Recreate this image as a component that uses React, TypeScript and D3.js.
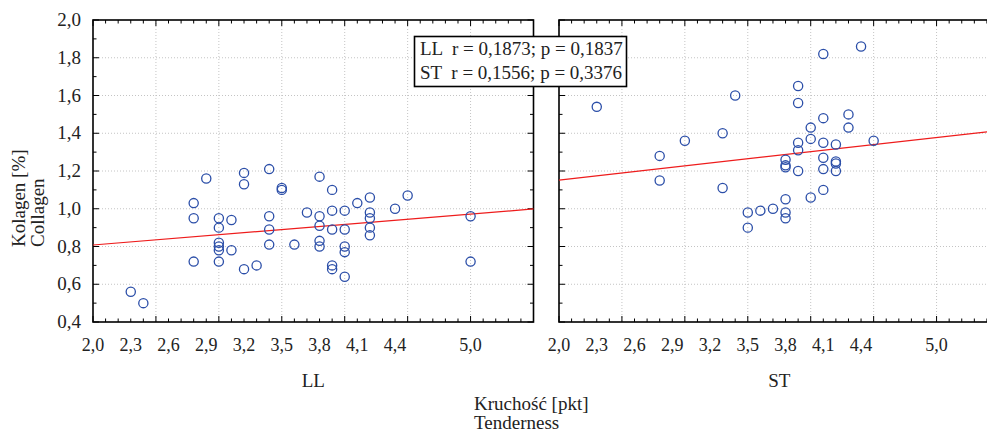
import React from 'react';
import * as d3 from 'd3';

// Data
const xTickLabels = [2.0, 2.3, 2.6, 2.9, 3.2, 3.5, 3.8, 4.1, 4.4, 5.0];
const yTickLabels = [0.4, 0.6, 0.8, 1.0, 1.2, 1.4, 1.6, 1.8, 2.0];
const panels = ['LL', 'ST'];

const llX = [2.3, 2.4, 2.8, 2.8, 2.8, 2.9, 3.0, 3.0, 3.0, 3.0, 3.0, 3.0, 3.1, 3.1, 3.2, 3.2, 3.2, 3.3, 3.4, 3.4, 3.4, 3.4, 3.5, 3.5, 3.6, 3.7, 3.8, 3.8, 3.8, 3.8, 3.8, 3.9, 3.9, 3.9, 3.9, 3.9, 4.0, 4.0, 4.0, 4.0, 4.0, 4.1, 4.2, 4.2, 4.2, 4.2, 4.2, 4.4, 4.5, 5.0, 5.0];
const llY = [0.56, 0.50, 1.03, 0.95, 0.72, 1.16, 0.95, 0.90, 0.82, 0.80, 0.78, 0.72, 0.94, 0.78, 1.19, 1.13, 0.68, 0.70, 1.21, 0.96, 0.89, 0.81, 1.11, 1.10, 0.81, 0.98, 1.17, 0.96, 0.91, 0.83, 0.80, 1.10, 0.99, 0.89, 0.70, 0.68, 0.99, 0.89, 0.80, 0.77, 0.64, 1.03, 1.06, 0.98, 0.95, 0.90, 0.86, 1.00, 1.07, 0.96, 0.72];

const stX = [2.3, 2.8, 2.8, 3.0, 3.3, 3.3, 3.4, 3.5, 3.5, 3.6, 3.7, 3.8, 3.8, 3.8, 3.8, 3.8, 3.8, 3.9, 3.9, 3.9, 3.9, 3.9, 4.0, 4.0, 4.0, 4.1, 4.1, 4.1, 4.1, 4.1, 4.1, 4.2, 4.2, 4.2, 4.2, 4.3, 4.3, 4.4, 4.5];
const stY = [1.54, 1.28, 1.15, 1.36, 1.40, 1.11, 1.60, 0.98, 0.90, 0.99, 1.00, 1.26, 1.23, 1.22, 1.05, 0.98, 0.95, 1.65, 1.56, 1.35, 1.31, 1.20, 1.43, 1.37, 1.06, 1.82, 1.48, 1.35, 1.27, 1.21, 1.10, 1.34, 1.25, 1.24, 1.20, 1.50, 1.43, 1.86, 1.36];

// regression fits: [value at x=2.0, value at x=5.5]
const llFit = [0.808, 0.999];
const stFit = [1.152, 1.415];

const legendLines = ['LL  r = 0,1873; p = 0,1837', 'ST  r = 0,1556; p = 0,3376'];

const fmt = (v: number) => d3.format('.1f')(v).replace('.', ',');
const FONT = "'Liberation Serif', 'Times New Roman', 'DejaVu Serif', serif";
const ts = (size: number): React.CSSProperties => ({ fontFamily: FONT, fontSize: size + 'px', whiteSpace: 'pre' });

function Panel({ x0, x1, xs, ys, fit, title }: any) {
  const x = d3.scaleLinear().domain([2.0, 5.5]).range([x0, x1]);
  const y = d3.scaleLinear().domain([0.4, 2.0]).range([322, 20]);
  const xMinor = d3.range(20, 56).map((v) => v / 10);
  const yMinor = d3.range(4, 21).map((v) => v / 10);
  const xGrid = [2.5, 3.0, 3.5, 4.0, 4.5, 5.0];
  const yGrid = [0.6, 0.8, 1.0, 1.2, 1.4, 1.6, 1.8];
  const isMajX = (v: number) => Math.abs(v * 2 - Math.round(v * 2)) < 1e-6;
  const isMajY = (v: number) => Math.abs(v * 5 - Math.round(v * 5)) < 1e-6;
  const line = d3.line<number>().x((d) => x(d)).y((d, i) => y(fit[i]));
  return (
    <g>
      {xGrid.map((v) => (
        <line key={'gx' + v} x1={x(v)} x2={x(v)} y1={20} y2={322} stroke="#c4c4c4" strokeWidth={1} strokeDasharray="1,2" />
      ))}
      {yGrid.map((v) => (
        <line key={'gy' + v} x1={x0} x2={x1} y1={y(v)} y2={y(v)} stroke="#c4c4c4" strokeWidth={1} strokeDasharray="1,2" />
      ))}
      {xMinor.map((v) => {
        const len = isMajX(v) ? 6 : 3.5;
        return (
          <g key={'tx' + v}>
            <line x1={x(v)} x2={x(v)} y1={322} y2={322 - len} stroke="#000" strokeWidth={1} />
            <line x1={x(v)} x2={x(v)} y1={20} y2={20 + len} stroke="#000" strokeWidth={1} />
          </g>
        );
      })}
      {yMinor.map((v) => {
        const len = isMajY(v) ? 6 : 3.5;
        return (
          <g key={'ty' + v}>
            <line x1={x0} x2={x0 + len} y1={y(v)} y2={y(v)} stroke="#000" strokeWidth={1} />
            <line x1={x1} x2={x1 - len} y1={y(v)} y2={y(v)} stroke="#000" strokeWidth={1} />
          </g>
        );
      })}
      <rect x={x0} y={20} width={x1 - x0} height={302} fill="none" stroke="#000" strokeWidth={1.6} />
      <path d={line([2.0, 5.5]) || ''} stroke="#ee1c1c" strokeWidth={1.2} fill="none" />
      {xs.map((v: number, i: number) => (
        <circle key={'p' + i} cx={x(v)} cy={y(ys[i])} r={4.6} fill="none" stroke="#2b4ea8" strokeWidth={1.3} />
      ))}
      {xTickLabels.map((v) => (
        <text key={'xl' + v} x={x(v)} y={351} textAnchor="middle" style={ts(18)} fill="#222">
          {fmt(v)}
        </text>
      ))}
      <text x={x(3.75)} y={387} textAnchor="middle" style={ts(19)} fill="#222">
        {title}
      </text>
    </g>
  );
}

export default function App() {
  const y = d3.scaleLinear().domain([0.4, 2.0]).range([322, 20]);
  return (
    <svg width={987} height={432} style={{ position: 'absolute', left: 0, top: 0, background: '#fff' }}>
      <rect x={0} y={0} width={987} height={432} fill="#fff" />
      {yTickLabels.map((v) => (
        <text key={'yl' + v} x={81} y={y(v) + 6} textAnchor="end" style={ts(19)} fill="#222">
          {fmt(v)}
        </text>
      ))}
      <text transform="translate(25,247) rotate(-90)" textAnchor="start" style={ts(19)} fill="#222">
        Kolagen [%]
      </text>
      <text transform="translate(44,247) rotate(-90)" textAnchor="start" style={ts(19)} fill="#222">
        Collagen
      </text>
      <Panel x0={93} x1={533.5} xs={llX} ys={llY} fit={llFit} title={panels[0]} />
      <Panel x0={559} x1={999.5} xs={stX} ys={stY} fit={stFit} title={panels[1]} />
      <rect x={414.5} y={36.5} width={212} height={50} fill="#fff" stroke="#000" strokeWidth={1.6} />
      {legendLines.map((t, i) => (
        <text key={'lg' + i} x={420} y={55 + i * 24} style={ts(19)} fill="#222">
          {t}
        </text>
      ))}
      <text x={474} y={410} style={ts(19)} fill="#222">Kruchość [pkt]</text>
      <text x={474} y={429} style={ts(19)} fill="#222">Tenderness</text>
    </svg>
  );
}
